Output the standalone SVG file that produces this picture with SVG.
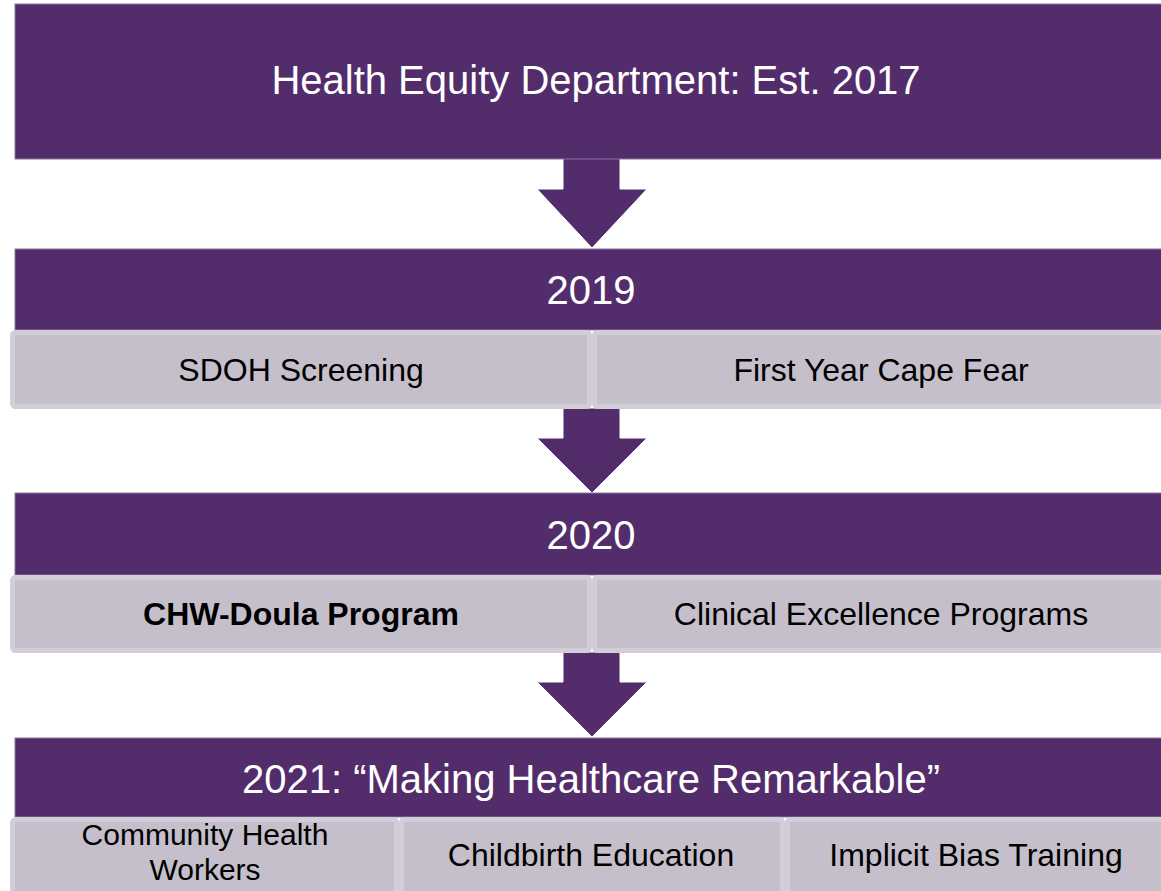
<svg xmlns="http://www.w3.org/2000/svg" width="1161" height="891" viewBox="0 0 1161 891">
<style>
.hdr{fill:#532d6b;stroke:#8c74a0;stroke-width:1}
.sub{fill:#c4bfca;stroke:#d2ced8;stroke-width:5}
.arrow{fill:#532d6b;stroke:#ffffff;stroke-width:1}
.ht{font-family:"Liberation Sans",Arial,sans-serif;font-size:40px;fill:#ffffff;text-anchor:middle}
.st{font-family:"Liberation Sans",Arial,sans-serif;font-size:32px;fill:#000000;text-anchor:middle}
.st2{font-family:"Liberation Sans",Arial,sans-serif;font-size:30px;fill:#000000;text-anchor:middle}
.b{font-weight:bold}
</style>
<rect width="1161" height="891" fill="#ffffff"/>
<g id="connectors">
<path class="arrow" d="M563,158 L620,158 L620,189 L647,189 L592,248 L537,189 L563,189 Z"/>
<path class="arrow" d="M563,408 L620,408 L620,438 L647,438 L592,493 L537,438 L563,438 Z"/>
<path class="arrow" d="M563,652 L620,652 L620,682 L647,682 L592,737 L537,682 L563,682 Z"/>
</g>
<g id="node-2017">
<rect class="hdr" x="15" y="4" width="1160" height="155"/>
<text class="ht" x="596" y="94">Health Equity Department: Est. 2017</text>
</g>
<g id="node-2019">
<rect class="hdr" x="15" y="249" width="1160" height="81"/>
<text class="ht" x="591" y="304">2019</text>
</g>
<g id="node-sdoh">
<rect class="sub" x="12.5" y="332.5" width="577" height="74" rx="3"/>
<text class="st" x="301" y="381">SDOH Screening</text>
</g>
<g id="node-firstyear">
<rect class="sub" x="594.5" y="332.5" width="580" height="74" rx="3"/>
<text class="st" x="881" y="381">First Year Cape Fear</text>
</g>
<g id="node-2020">
<rect class="hdr" x="15" y="493" width="1160" height="82"/>
<text class="ht" x="591" y="549">2020</text>
</g>
<g id="node-chw">
<rect class="sub" x="12.5" y="577.5" width="577" height="73" rx="3"/>
<text class="st b" x="301" y="625">CHW-Doula Program</text>
</g>
<g id="node-clinical">
<rect class="sub" x="594.5" y="577.5" width="580" height="73" rx="3"/>
<text class="st" x="881" y="625">Clinical Excellence Programs</text>
</g>
<g id="node-2021">
<rect class="hdr" x="15" y="738" width="1160" height="79"/>
<text class="ht" x="591" y="793">2021: “Making Healthcare Remarkable”</text>
</g>
<g id="node-chw-workers">
<rect class="sub" x="12.5" y="819.5" width="384" height="80" rx="3"/>
<text class="st2"><tspan x="205" y="845">Community Health</tspan><tspan x="205" y="880">Workers</tspan></text>
</g>
<g id="node-childbirth">
<rect class="sub" x="401.5" y="819.5" width="381" height="80" rx="3"/>
<text class="st" x="591" y="866">Childbirth Education</text>
</g>
<g id="node-bias">
<rect class="sub" x="787.5" y="819.5" width="387" height="80" rx="3"/>
<text class="st" x="976" y="866">Implicit Bias Training</text>
</g>
</svg>
